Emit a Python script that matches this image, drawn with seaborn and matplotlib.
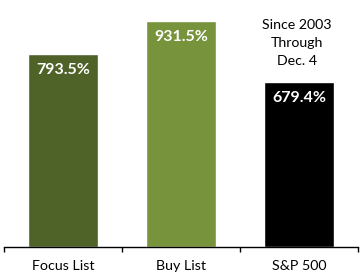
import matplotlib
matplotlib.use("Agg")
import matplotlib.pyplot as plt
import seaborn as sns
import pandas as pd

categories = ["Focus List", "Buy List", "S&P 500"]
values = [793.5, 931.5, 679.4]
value_labels = ["793.5%", "931.5%", "679.4%"]
colors = ["#4F6228", "#77933C", "#000000"]
note = "Since 2003\nThrough\nDec. 4"

sns.set_theme(style="white")
plt.rcParams["font.family"] = ["Lato", "DejaVu Sans"]

df = pd.DataFrame({"category": categories, "value": values})

W, H = 361, 277
fig = plt.figure(figsize=(W / 100, H / 100), dpi=100)
ax = fig.add_axes([4 / W, (H - 246.5) / H, 354 / W, 242 / H])

sns.barplot(data=df, x="category", y="value", hue="category",
            palette=colors, width=0.6, saturation=1, legend=False, ax=ax)

ax.set_ylim(0, 1000)
ax.set_xlim(-0.5, 2.5)
for s in ["top", "right", "left"]:
    ax.spines[s].set_visible(False)
ax.spines["bottom"].set_color("black")
ax.spines["bottom"].set_linewidth(1)
ax.set_yticks([])
ax.set_xlabel("")
ax.set_ylabel("")

# category separators as major ticks, labels on minor ticks
ax.set_xticks([-0.5, 0.5, 1.5, 2.5])
ax.set_xticklabels([])
ax.tick_params(axis="x", which="major", direction="out", length=3.5,
               width=1, color="black", bottom=True)
ax.set_xticks([0, 1, 2], minor=True)
ax.set_xticklabels(categories, minor=True)
ax.tick_params(axis="x", which="minor", length=0, pad=9.5, labelsize=10.3,
               labelcolor="black")

for i, (v, lab) in enumerate(zip(values, value_labels)):
    ax.annotate(lab, xy=(i, v), xytext=(0, -11.5), textcoords="offset points",
                ha="center", va="center", color="white", fontsize=11.5,
                fontweight="bold")

ax.text(1.98, 840, note, ha="center", va="center", fontsize=10.2,
        color="black", linespacing=1.6)

fig.savefig("out.png", dpi=100)
